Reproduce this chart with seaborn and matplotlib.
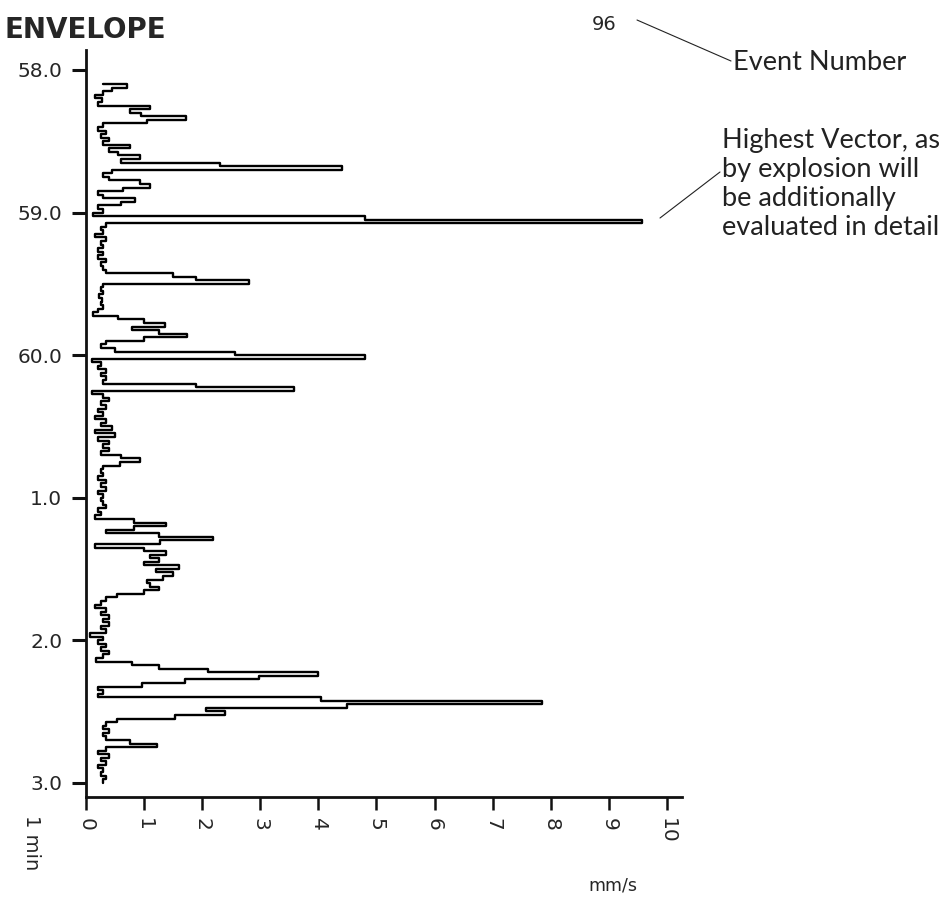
import numpy as np
import seaborn as sns
import matplotlib.pyplot as plt
from matplotlib.lines import Line2D

# === DATA ===
# velocity envelope in mm/s, one sample every 0.025 min starting 0.1 min after 58.0
velocity = [
    0.3, 0.7, 0.45, 0.3, 0.15, 0.28, 0.2, 1.1, 0.75, 0.95,
    1.72, 1.05, 0.3, 0.2, 0.35, 0.25, 0.4, 0.3, 0.76, 0.4,
    0.55, 0.93, 0.6, 2.3, 4.4, 0.45, 0.3, 0.4, 0.93, 1.1,
    0.64, 0.2, 0.3, 0.85, 0.6, 0.2, 0.3, 0.12, 4.8, 9.57,
    0.35, 0.25, 0.3, 0.15, 0.35, 0.25, 0.3, 0.2, 0.3, 0.2,
    0.35, 0.25, 0.3, 0.35, 1.5, 1.9, 2.8, 0.3, 0.25, 0.3,
    0.22, 0.28, 0.25, 0.3, 0.2, 0.12, 0.55, 1.0, 1.36, 0.8,
    1.25, 1.74, 1.0, 0.35, 0.25, 0.5, 2.57, 4.8, 0.1, 0.25,
    0.2, 0.35, 0.25, 0.35, 0.3, 1.9, 3.58, 0.1, 0.3, 0.4,
    0.25, 0.35, 0.2, 0.3, 0.15, 0.35, 0.25, 0.45, 0.15, 0.5,
    0.2, 0.4, 0.3, 0.4, 0.25, 0.6, 0.93, 0.59, 0.3, 0.25,
    0.3, 0.2, 0.35, 0.25, 0.35, 0.2, 0.3, 0.25, 0.3, 0.35,
    0.2, 0.25, 0.15, 0.82, 1.38, 0.82, 0.35, 1.25, 2.18, 1.27,
    0.16, 1.0, 1.38, 1.1, 1.25, 1.0, 1.6, 1.2, 1.5, 1.33,
    1.05, 1.1, 1.25, 0.99, 0.53, 0.35, 0.25, 0.15, 0.35, 0.25,
    0.4, 0.3, 0.4, 0.25, 0.35, 0.07, 0.3, 0.2, 0.35, 0.25,
    0.4, 0.3, 0.18, 0.79, 1.26, 2.1, 4.0, 2.98, 1.7, 0.96,
    0.2, 0.3, 0.2, 4.05, 7.85, 4.5, 2.06, 2.4, 1.53, 0.53,
    0.35, 0.3, 0.4, 0.3, 0.35, 0.76, 1.23, 0.35, 0.2, 0.4,
    0.25, 0.35, 0.2, 0.3, 0.25, 0.35, 0.3,
]
SAMPLE_START = 0.1
SAMPLE_STEP = 0.025

time_ticks = [0, 1, 2, 3, 4, 5]
time_labels = ["58.0", "59.0", "60.0", "1.0", "2.0", "3.0"]
speed_ticks = [0, 1, 2, 3, 4, 5, 6, 7, 8, 9, 10]

W, H = 953, 906


def fx(px):
    return px / W


def fy(py):
    return 1 - py / H


sns.set_style("ticks")
plt.rcParams["font.family"] = ["DejaVu Sans"]

fig = plt.figure(figsize=(W / 100, H / 100), dpi=100)
ax = fig.add_axes([fx(86), fy(797), fx(682) - fx(86), fy(50) - fy(797)])

minutes = SAMPLE_START + SAMPLE_STEP * np.arange(len(velocity))
sns.lineplot(x=velocity, y=minutes, sort=False, estimator=None,
             drawstyle="steps-post", color="black", lw=1.7, ax=ax)

ax.set_xlim(0, 10.26)
ax.set_ylim(5.1, -0.14)
ax.set_yticks(time_ticks)
ax.set_yticklabels(time_labels, fontsize=14.5)
ax.set_xticks(speed_ticks)
ax.set_xticklabels([str(v) for v in speed_ticks], fontsize=14.5, rotation=270)
ax.tick_params(axis="y", length=10, width=2.2, pad=7, color="#111111")
ax.tick_params(axis="x", length=9, width=1.8, pad=6, color="#111111")
sns.despine(ax=ax)
for side in ("left", "bottom"):
    ax.spines[side].set_linewidth(2.0)
    ax.spines[side].set_color("#111111")
ax.set_xlabel("")
ax.set_ylabel("")

# texts in the plotter style
fig.text(fx(5), fy(38), "ENVELOPE", fontsize=20, fontweight="bold", ha="left", va="baseline")
fig.text(fx(592), fy(30), "96", fontsize=14, ha="left", va="baseline")
fig.text(fx(22), fy(815), "1 min", fontsize=14, rotation=270, ha="left", va="top")
fig.text(fx(588), fy(890), "mm/s", fontsize=12.5, ha="left", va="baseline")

# explanatory notes
note_font = dict(family=["Lato", "DejaVu Sans"], fontsize=19.5, color="#222222", ha="left", va="baseline")
fig.text(fx(733), fy(70), "Event Number", **note_font)
note_lines = ["Highest Vector, as", "by explosion will", "be additionally", "evaluated in detail"]
for i, line in enumerate(note_lines):
    fig.text(fx(722), fy(148 + 29 * i), line, **note_font)

fig.add_artist(Line2D([fx(637), fx(731)], [fy(20), fy(61)], color="#222222", lw=0.8))
fig.add_artist(Line2D([fx(660), fx(720)], [fy(218), fy(172)], color="#222222", lw=0.8))

fig.savefig("out.png", dpi=100)
